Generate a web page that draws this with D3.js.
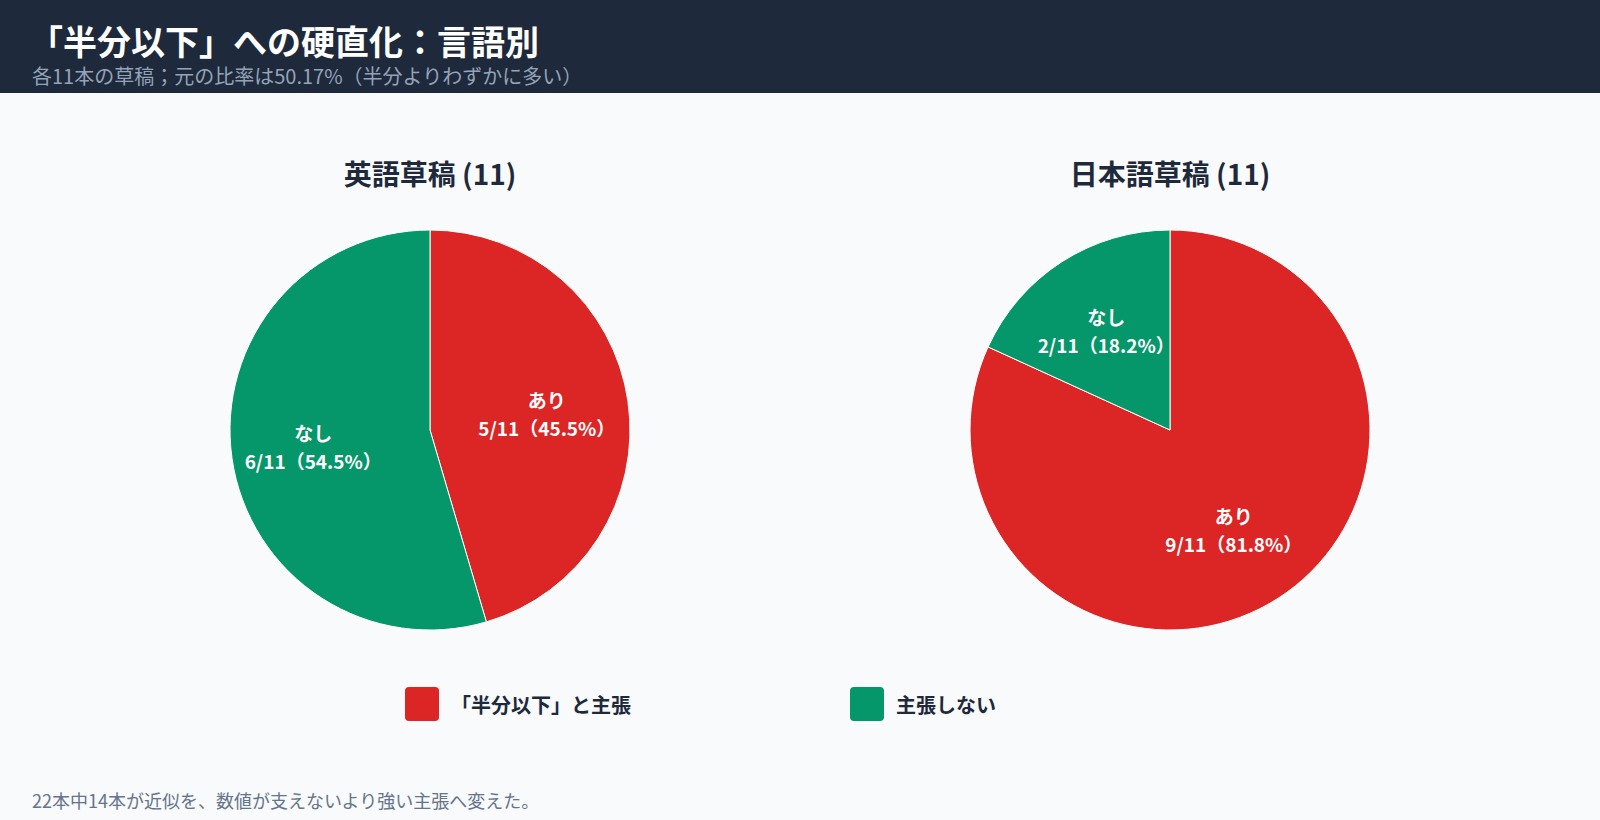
<!DOCTYPE html>
<html>
<head>
<meta charset="utf-8">
<script src="https://cdn.jsdelivr.net/npm/d3@7"></script>
<style>
  html, body { margin: 0; padding: 0; background: #f8fafc; }
  svg { display: block; font-family: "Noto Sans CJK JP", "Noto Sans", sans-serif; }
</style>
</head>
<body>
<div id="chart"></div>
<script>
// data
const drafts = ["英語草稿", "日本語草稿"];
const totals = [11, 11];
const claimCounts = [5, 9];     // 「半分以下」と主張
const noClaimCounts = [6, 2];   // 主張しない
const sliceNames = ["あり", "なし"];
const legendLabels = ["「半分以下」と主張", "主張しない"];
const colors = ["#dc2626", "#059669"];

const title = "「半分以下」への硬直化：言語別";
const subtitle = "各11本の草稿；元の比率は50.17%（半分よりわずかに多い）";
const footnote = "22本中14本が近似を、数値が支えないより強い主張へ変えた。";

const width = 1600, height = 820;
const headerH = 93;

const svg = d3.select("#chart")
  .append("svg")
    .attr("width", width)
    .attr("height", height);

svg.append("rect")
    .attr("width", width)
    .attr("height", height)
    .attr("fill", "#f8fafc");

// header band
svg.append("rect")
    .attr("width", width)
    .attr("height", headerH)
    .attr("fill", "#1e293b");

svg.append("text")
    .attr("x", 29)
    .attr("y", 40)
    .attr("dominant-baseline", "central")
    .attr("fill", "#ffffff")
    .attr("font-size", 34)
    .attr("font-weight", 700)
    .text(title);

svg.append("text")
    .attr("x", 32)
    .attr("y", 75)
    .attr("dominant-baseline", "central")
    .attr("fill", "#94a3b8")
    .attr("font-size", 20)
    .text(subtitle);

// one pie per language
const x = d3.scalePoint()
    .domain(drafts)
    .range([430, 1170]);

const radius = 200, cy = 430;

const pie = d3.pie()
    .sort(null)
    .value(d => d.count);

const arc = d3.arc()
    .innerRadius(0)
    .outerRadius(radius);

const labelArc = d3.arc()
    .innerRadius(radius * 0.59)
    .outerRadius(radius * 0.59);

drafts.forEach((name, i) => {
  const slices = [
    {name: sliceNames[0], count: claimCounts[i], color: colors[0]},
    {name: sliceNames[1], count: noClaimCounts[i], color: colors[1]}
  ];

  const g = svg.append("g")
      .attr("transform", `translate(${x(name)}, ${cy})`);

  svg.append("text")
      .attr("x", x(name))
      .attr("y", 173)
      .attr("text-anchor", "middle")
      .attr("dominant-baseline", "central")
      .attr("fill", "#1e293b")
      .attr("font-size", 28)
      .attr("font-weight", 700)
      .text(`${name} (${totals[i]})`);

  const arcs = pie(slices);

  g.selectAll("path")
    .data(arcs)
    .enter()
    .append("path")
      .attr("d", arc)
      .attr("fill", d => d.data.color)
      .attr("stroke", "#ffffff")
      .attr("stroke-width", 1);

  const labels = g.selectAll("g.label")
    .data(arcs)
    .enter()
    .append("g")
      .attr("class", "label")
      .attr("transform", d => `translate(${labelArc.centroid(d)})`);

  labels.append("text")
      .attr("y", -14)
      .attr("text-anchor", "middle")
      .attr("dominant-baseline", "central")
      .attr("fill", "#ffffff")
      .attr("font-size", 19)
      .attr("font-weight", 700)
      .text(d => d.data.name);

  labels.append("text")
      .attr("y", 14)
      .attr("text-anchor", "middle")
      .attr("dominant-baseline", "central")
      .attr("fill", "#ffffff")
      .attr("font-size", 19)
      .attr("font-weight", 700)
      .text(d => `${d.data.count}/${totals[i]}（${(d.data.count / totals[i] * 100).toFixed(1)}%）`);
});

// legend
const legendX = d3.scalePoint()
    .domain(legendLabels)
    .range([405, 850]);

const legend = svg.selectAll("g.legend")
  .data(legendLabels)
  .enter()
  .append("g")
    .attr("class", "legend")
    .attr("transform", d => `translate(${legendX(d)}, 704)`);

legend.append("rect")
    .attr("y", -17)
    .attr("width", 34)
    .attr("height", 34)
    .attr("rx", 4)
    .attr("fill", (d, i) => colors[i]);

legend.append("text")
    .attr("x", 46)
    .attr("dominant-baseline", "central")
    .attr("fill", "#1e293b")
    .attr("font-size", 20)
    .attr("font-weight", 700)
    .text(d => d);

svg.append("text")
    .attr("x", 32)
    .attr("y", 800)
    .attr("dominant-baseline", "central")
    .attr("fill", "#64748b")
    .attr("font-size", 18)
    .text(footnote);
</script>
</body>
</html>
